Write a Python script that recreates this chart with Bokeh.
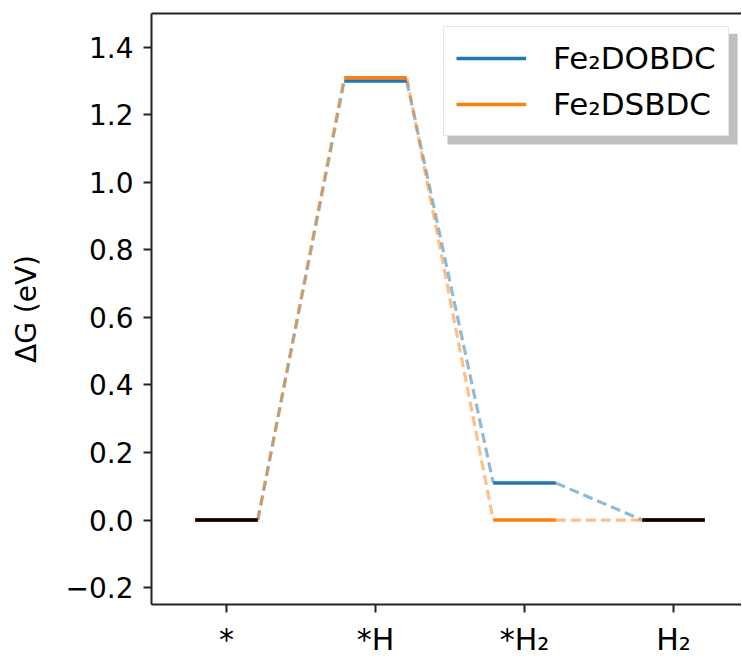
from bokeh.plotting import figure
from bokeh.models import Legend, LegendItem, LinearAxis, FixedTicker, Range1d
from bokeh.embed import file_html
from bokeh.resources import INLINE

# ---- data ----
steps = ["*", "*H", "*H₂", "H₂"]
step_pos = [0, 1, 2, 3]
dobdc = [0.0, 1.30, 0.11, 0.0]
dsbdc = [0.0, 1.31, 0.0, 0.0]
series_names = ["Fe₂DOBDC", "Fe₂DSBDC"]
series_vals = [dobdc, dsbdc]
colors = ["#1f77b4", "#ff7f0e"]
y_ticks = [-0.2, 0.0, 0.2, 0.4, 0.6, 0.8, 1.0, 1.2, 1.4]
y_label = "ΔG (eV)"

HW = 0.21  # half width of a level
FONT = "DejaVu Sans"
X_END = 3.456

p = figure(width=741, height=659, output_backend="svg", toolbar_location=None,
           x_range=Range1d(-0.503, X_END), y_range=Range1d(-0.25, 1.5),
           min_border_left=151, min_border_right=0, min_border_top=13, min_border_bottom=53)
p.grid.visible = False
p.outline_line_color = None
p.outline_line_alpha = 0
p.background_fill_color = "white"
p.border_fill_color = "white"

# legend drop shadow (decoration, drawn beneath everything)
p.quad(left=[1.483], right=[3.43], top=[1.44], bottom=[1.112],
       fill_color="#808080", fill_alpha=0.5, line_color=None)

# connectors
for vals, c in zip(series_vals, colors):
    p.segment(x0=[x + HW for x in step_pos[:-1]], y0=vals[:-1],
              x1=[x - HW for x in step_pos[1:]], y1=vals[1:],
              line_color=c, line_alpha=0.5, line_width=3.2, line_dash="10 5")

# levels
level_renderers = []
for vals, c in zip(series_vals, colors):
    r = p.segment(x0=[x - HW for x in step_pos], y0=vals,
                  x1=[x + HW for x in step_pos], y1=vals,
                  line_color=c, line_width=3.5)
    level_renderers.append(r)

# reference states in black
ends = [0, len(step_pos) - 1]
p.segment(x0=[step_pos[i] - HW for i in ends], y0=[dobdc[i] for i in ends],
          x1=[step_pos[i] + HW for i in ends], y1=[dobdc[i] for i in ends],
          line_color="black", line_width=3.5)

# axes styling
for ax in (p.xaxis[0], p.yaxis[0]):
    ax.axis_line_width = 2
    ax.axis_line_color = "#222222"
    ax.major_tick_line_width = 2
    ax.major_tick_line_color = "#222222"
    ax.major_tick_out = 8
    ax.major_tick_in = 0
    ax.minor_tick_out = 0
    ax.minor_tick_in = 0
    ax.major_label_text_font = FONT
    ax.major_label_text_color = "black"

p.yaxis.ticker = FixedTicker(ticks=y_ticks)
p.yaxis.major_label_overrides = {t: (f"{t:.1f}".replace("-", "−")) for t in y_ticks}
p.yaxis.major_label_text_font_size = "28px"
p.yaxis.major_label_standoff = 10
p.yaxis.axis_label = y_label
p.yaxis.axis_label_text_font = FONT
p.yaxis.axis_label_text_font_size = "28px"
p.yaxis.axis_label_text_font_style = "normal"
p.yaxis.axis_label_text_color = "black"
p.yaxis.axis_label_standoff = 20

p.xaxis.ticker = FixedTicker(ticks=step_pos)
p.xaxis.major_label_overrides = {pos: s for pos, s in zip(step_pos, steps)}
p.xaxis.major_label_text_font_size = "30px"
p.xaxis.major_label_standoff = 9

top = LinearAxis(major_tick_line_color=None, minor_tick_line_color=None,
                 major_label_text_font_size="0px", axis_line_width=2,
                 axis_line_color="#222222")
top.major_label_text_color = None
p.add_layout(top, "above")

legend = Legend(items=[LegendItem(label=n, renderers=[r]) for n, r in zip(series_names, level_renderers)],
                location=(292, 468), label_text_font=FONT, label_text_font_size="31px",
                label_text_color="black",
                glyph_width=70, glyph_height=38, label_height=38, label_standoff=27,
                spacing=8, padding=12, margin=0,
                border_line_color="#cccccc", border_line_width=1.5,
                background_fill_color="white", background_fill_alpha=1.0)
p.add_layout(legend, "center")

open("out.html", "w").write(file_html(p, INLINE))
